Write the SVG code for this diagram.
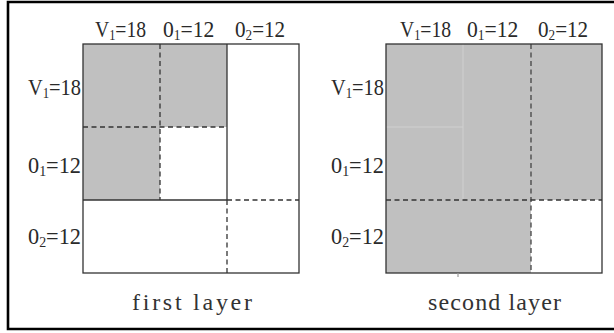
<svg xmlns="http://www.w3.org/2000/svg" width="614" height="333" viewBox="0 0 614 333">
<style>
.lbl{font-family:"Liberation Serif",serif;font-size:24px;fill:#2a2a2a}
.sub{font-size:15px}
.cap{font-family:"Liberation Serif",serif;font-size:24px;fill:#333}
.solid{stroke:#333;stroke-width:1.3;fill:none}
.dash{stroke:#333;stroke-width:1.3;fill:none;stroke-dasharray:5,3.5}
.dashw{stroke:#444;stroke-width:1.3;fill:none;stroke-dasharray:5,3.5}
.faint{stroke:#d0d0d0;stroke-width:1;fill:none}
.gray{fill:#c0c0c0}
.end{text-anchor:end}
</style>
<rect width="614" height="333" fill="#fff"/>
<path d="M614 2 H8 V329 H614" fill="none" stroke="#000" stroke-width="2.6"/>

<g id="first-layer">
  <rect class="gray" x="83" y="44" width="77" height="156"/>
  <rect class="gray" x="160" y="44" width="67" height="83"/>
  <line class="dash" x1="160" y1="44" x2="160" y2="200"/>
  <line class="dash" x1="83" y1="127" x2="227" y2="127"/>
  <line class="solid" x1="227" y1="44" x2="227" y2="200"/>
  <line class="solid" x1="83" y1="200" x2="227" y2="200"/>
  <line class="dash" x1="227" y1="200" x2="227" y2="273"/>
  <line class="dash" x1="227" y1="200" x2="299" y2="200"/>
  <rect class="solid" x="83" y="44" width="216" height="229"/>
  <text class="lbl" transform="translate(95,37) scale(0.82,1)">V<tspan class="sub" dy="3">1</tspan><tspan dy="-3">=18</tspan></text>
  <text class="lbl" transform="translate(163,37) scale(0.9,1)">0<tspan class="sub" dy="3">1</tspan><tspan dy="-3">=12</tspan></text>
  <text class="lbl" transform="translate(235,37) scale(0.88,1)">0<tspan class="sub" dy="3">2</tspan><tspan dy="-3">=12</tspan></text>
  <text class="lbl end" transform="translate(81,95) scale(0.85,1)">V<tspan class="sub" dy="3">1</tspan><tspan dy="-3">=18</tspan></text>
  <text class="lbl end" transform="translate(81,173) scale(0.93,1)">0<tspan class="sub" dy="3">1</tspan><tspan dy="-3">=12</tspan></text>
  <text class="lbl end" transform="translate(81,244) scale(0.93,1)">0<tspan class="sub" dy="3">2</tspan><tspan dy="-3">=12</tspan></text>
  <text class="cap" x="132" y="310" textLength="120">first layer</text>
</g>

<g id="second-layer">
  <rect class="gray" x="386" y="44" width="216" height="229"/>
  <rect fill="#fff" x="531" y="200" width="71" height="73"/>
  <line class="faint" x1="463" y1="44" x2="463" y2="200"/>
  <line class="faint" x1="386" y1="127" x2="463" y2="127"/>
  <line class="dashw" x1="531" y1="44" x2="531" y2="273"/>
  <line class="dash" x1="386" y1="200" x2="602" y2="200"/>
  <rect class="solid" x="386" y="44" width="216" height="229"/>
  <line stroke="#999" stroke-width="1.2" x1="458" y1="273" x2="458" y2="277"/>
  <text class="lbl" transform="translate(400,37) scale(0.82,1)">V<tspan class="sub" dy="3">1</tspan><tspan dy="-3">=18</tspan></text>
  <text class="lbl" transform="translate(467,37) scale(0.9,1)">0<tspan class="sub" dy="3">1</tspan><tspan dy="-3">=12</tspan></text>
  <text class="lbl" transform="translate(538,37) scale(0.88,1)">0<tspan class="sub" dy="3">2</tspan><tspan dy="-3">=12</tspan></text>
  <text class="lbl end" transform="translate(384,95) scale(0.85,1)">V<tspan class="sub" dy="3">1</tspan><tspan dy="-3">=18</tspan></text>
  <text class="lbl end" transform="translate(384,173) scale(0.93,1)">0<tspan class="sub" dy="3">1</tspan><tspan dy="-3">=12</tspan></text>
  <text class="lbl end" transform="translate(384,244) scale(0.93,1)">0<tspan class="sub" dy="3">2</tspan><tspan dy="-3">=12</tspan></text>
  <text class="cap" x="428" y="310" textLength="133">second layer</text>
</g>
</svg>
